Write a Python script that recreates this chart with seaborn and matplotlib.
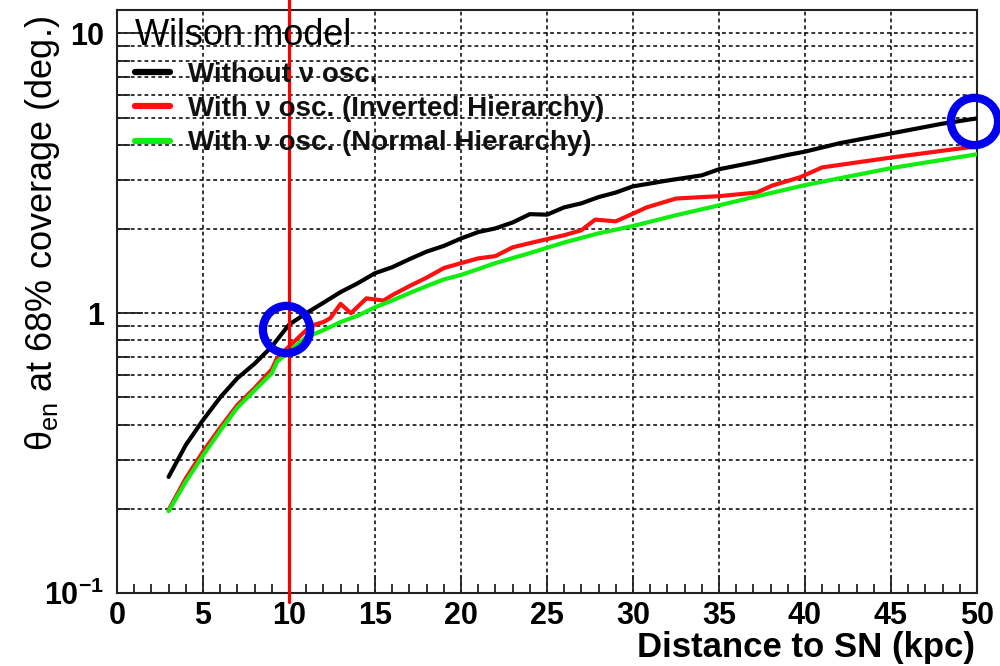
import matplotlib
matplotlib.use("Agg")
import matplotlib.pyplot as plt
import matplotlib.ticker as mticker
import numpy as np
import pandas as pd
import seaborn as sns

# ---- data: pointing resolution vs. supernova distance ----
dist_no_osc = [3, 4, 5, 6, 7, 8, 9, 10, 11, 12, 13, 14, 15, 16, 17, 18, 19, 20,
               21, 22, 23, 24, 25, 26, 27, 28, 29, 30, 32, 34, 35, 37, 39, 40,
               42, 45, 48, 50]
theta_no_osc = [0.26, 0.338, 0.415, 0.50, 0.586, 0.66, 0.76, 0.91, 1.0, 1.09,
                1.19, 1.28, 1.39, 1.46, 1.56, 1.66, 1.74, 1.85, 1.95, 2.01,
                2.11, 2.26, 2.25, 2.39, 2.47, 2.6, 2.7, 2.84, 2.98, 3.11, 3.27,
                3.46, 3.68, 3.78, 4.05, 4.39, 4.76, 4.97]

dist_ih = [3, 4, 5, 6, 7, 8, 9, 9.3, 10, 11, 11.5, 12, 12.4, 13, 13.6, 14.5,
           15.5, 16, 17, 18, 19, 20, 21, 22, 23, 24, 25, 26, 27, 27.8, 29, 30,
           30.8, 32.5, 35, 37.2, 38.1, 39.7, 41, 45, 49, 50]
theta_ih = [0.198, 0.257, 0.32, 0.39, 0.47, 0.54, 0.63, 0.69, 0.76, 0.87, 0.91,
            0.93, 0.96, 1.08, 1.0, 1.13, 1.11, 1.16, 1.25, 1.34, 1.45, 1.51,
            1.57, 1.6, 1.72, 1.78, 1.84, 1.9, 1.98, 2.16, 2.13, 2.27, 2.39,
            2.57, 2.62, 2.7, 2.86, 3.06, 3.32, 3.6, 3.88, 3.94]

dist_nh = [3, 4, 5, 6, 7, 8, 9, 9.3, 10, 11, 12, 13, 14, 15, 16, 17, 18, 19,
           20, 22, 24, 26, 28, 30, 32.5, 35, 37, 40, 45, 50]
theta_nh = [0.196, 0.25, 0.31, 0.38, 0.46, 0.53, 0.61, 0.67, 0.73, 0.82, 0.87,
            0.93, 0.98, 1.05, 1.11, 1.18, 1.25, 1.32, 1.37, 1.51, 1.64, 1.79,
            1.93, 2.05, 2.24, 2.43, 2.6, 2.87, 3.3, 3.7]

series_labels = ["Without \u03bd osc.",
                 "With \u03bd osc. (Inverted Hierarchy)",
                 "With \u03bd osc. (Normal Hierarchy)"]
series_colors = ["#000000", "#ff1010", "#10ee10"]

reference_distance = 10
highlight_distance = [9.85, 49.8]
highlight_theta = [0.875, 4.85]

x_ticks = [0, 5, 10, 15, 20, 25, 30, 35, 40, 45, 50]
y_ticks = [0.1, 1, 10]
y_tick_labels = [r"$\mathbf{10^{-1}}$", "1", "10"]

frames = []
for lab, xs, ys in zip(series_labels,
                       [dist_no_osc, dist_ih, dist_nh],
                       [theta_no_osc, theta_ih, theta_nh]):
    frames.append(pd.DataFrame({"distance": xs, "theta": ys, "series": lab}))
df = pd.concat(frames, ignore_index=True)

# ---- style ----
sns.set_theme(style="white")
plt.rcParams["font.family"] = ["Liberation Sans", "DejaVu Sans"]
plt.rcParams["mathtext.fontset"] = "custom"
plt.rcParams["mathtext.rm"] = "Liberation Sans"
plt.rcParams["mathtext.it"] = "Liberation Sans:italic"
plt.rcParams["mathtext.bf"] = "Liberation Sans:bold"
plt.rcParams["text.color"] = "black"
plt.rcParams["axes.labelcolor"] = "black"

fig = plt.figure(figsize=(10, 6.66), dpi=100)
ax = fig.add_axes([0.117, 0.1096, 0.86, 0.875])

sns.lineplot(data=df, x="distance", y="theta", hue="series",
             hue_order=series_labels,
             palette=dict(zip(series_labels, series_colors)),
             estimator=None, sort=False, linewidth=3, ax=ax, zorder=3)

ax.set_yscale("log")
ax.set_xlim(0, 50)
ax.set_ylim(0.1, 12.1)

ax.xaxis.set_major_locator(mticker.FixedLocator(x_ticks))
ax.xaxis.set_minor_locator(mticker.MultipleLocator(1))
ax.yaxis.set_major_locator(mticker.FixedLocator(y_ticks))
ax.yaxis.set_major_formatter(mticker.FixedFormatter(y_tick_labels))
ax.yaxis.set_minor_locator(mticker.LogLocator(base=10, subs=np.arange(2, 10)))
ax.yaxis.set_minor_formatter(mticker.NullFormatter())

for lab in ax.get_xticklabels() + ax.get_yticklabels():
    lab.set_fontweight("bold")
ax.tick_params(axis="both", which="both", direction="in", colors="#222222",
               labelcolor="black", labelsize=22, bottom=True, left=True,
               top=False, right=False)
ax.tick_params(axis="x", which="major", length=13, width=1.3, pad=6)
ax.tick_params(axis="x", which="minor", length=6.5, width=1.3)
ax.tick_params(axis="y", which="major", length=19, width=1.3, pad=9)
ax.tick_params(axis="y", which="minor", length=9.5, width=1.3)

# dotted grid
grid_kw = dict(color="black", linestyle=(0, (2.5, 2)), linewidth=1.1)
ax.xaxis.grid(True, which="major", **grid_kw)
ax.yaxis.grid(True, which="both", **grid_kw)
ax.set_axisbelow(True)

for sp in ax.spines.values():
    sp.set_color("#222222")
    sp.set_linewidth(1.5)

ax.set_xlabel("Distance to SN (kpc)", fontsize=25, fontweight="bold",
              loc="right")
ax.xaxis.set_label_coords(0.998, -0.066)
ax.set_ylabel("\u03b8$_{\\mathrm{en}}$ at 68% coverage (deg.)", fontsize=26,
              loc="top")
ax.yaxis.set_label_coords(-0.064, 0.99)

# legend
handles = ax.get_lines()[:3]
leg = ax.legend(handles, series_labels, title="Wilson model",
                loc="upper left", bbox_to_anchor=(0.021, 0.986),
                frameon=False, prop={"weight": "bold", "size": 20},
                title_fontproperties={"size": 26}, alignment="left",
                handlelength=1.25, handletextpad=0.65, labelspacing=0.3,
                borderaxespad=0, borderpad=0)
for h in leg.legend_handles:
    h.set_linewidth(4.5)
for t in leg.get_texts():
    t.set_color("#111111")

# reference distance and highlighted points
ax.axvline(reference_distance, ymin=-0.016, ymax=1.018, color="#ff0000",
           linewidth=2.3, clip_on=False, zorder=4)
ax.plot(highlight_distance, highlight_theta, linestyle="none", marker="o",
        markersize=34, markerfacecolor="none", markeredgecolor="#0000ee",
        markeredgewidth=6, clip_on=False, zorder=5)

fig.savefig("out.png", dpi=100)
